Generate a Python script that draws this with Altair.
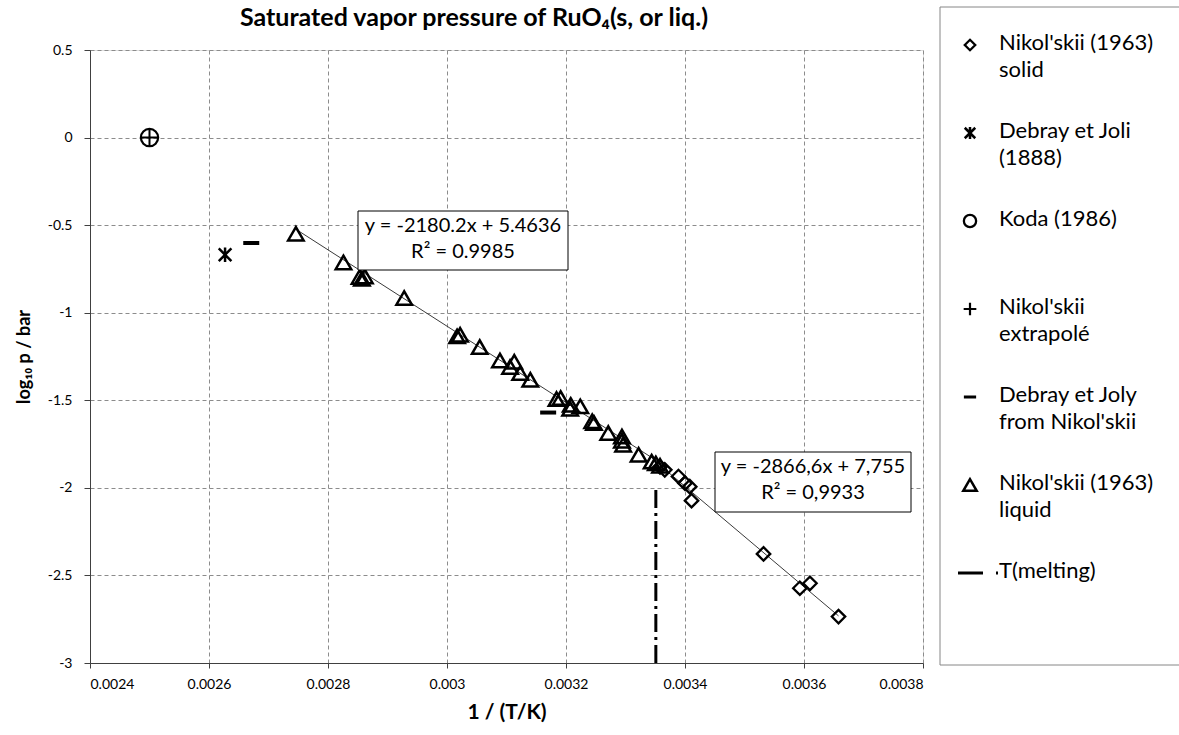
import altair as alt
import pandas as pd

# ---- measurements: 1/T (1/K) and log10(p / bar) ----
liquid_x = [0.002746, 0.002826, 0.002853, 0.002862, 0.002857, 0.002928, 0.003017,
            0.003022, 0.003055, 0.003089, 0.003113, 0.003106, 0.003123, 0.003140,
            0.003184, 0.003191, 0.003208, 0.003224, 0.003207, 0.003247, 0.003244,
            0.003271, 0.003294, 0.003296, 0.003294, 0.003322, 0.003344, 0.003351,
            0.003358]
liquid_y = [-0.549, -0.713, -0.796, -0.793, -0.806, -0.916, -1.135,
            -1.126, -1.196, -1.273, -1.280, -1.310, -1.345, -1.383,
            -1.493, -1.487, -1.526, -1.535, -1.549, -1.630, -1.620,
            -1.687, -1.707, -1.754, -1.731, -1.811, -1.850, -1.860,
            -1.874]

solid_x = [0.003358, 0.003366, 0.003389, 0.003400, 0.003408, 0.003411,
           0.003532, 0.003593, 0.003610, 0.003658]
solid_y = [-1.880, -1.897, -1.935, -1.973, -1.993, -2.073,
           -2.377, -2.573, -2.545, -2.735]

koda_x = [0.0025]
koda_y = [0.0]
extrap_x = [0.0025]
extrap_y = [0.0]
debray_x = [0.002627]
debray_y = [-0.669]
debray_nik_x = [0.002671, 0.003170]
debray_nik_y = [-0.602, -1.570]

t_melt_x = [0.003351, 0.003351]
t_melt_y = [-3.0, -2.0]

# linear fits log10 p = a * (1/T) + b
fit_liquid = (-2180.2, 5.4636)
fit_solid = (-2866.6, 7.755)
fit_liquid_text = ["y = -2180.2x + 5.4636", "R² = 0.9985"]
fit_solid_text = ["y = -2866,6x + 7,755", "R² = 0,9933"]

x_ticks = [0.0024, 0.0026, 0.0028, 0.0030, 0.0032, 0.0034, 0.0036, 0.0038]
y_ticks = [-3.0, -2.5, -2.0, -1.5, -1.0, -0.5, 0.0, 0.5]

chart_title = "Saturated vapor pressure of RuO₄(s, or liq.)"
legend_labels = [
    "Nikol'skii (1963)\nsolid",
    "Debray et Joli\n(1888)",
    "Koda (1986)",
    "Nikol'skii\nextrapolé",
    "Debray et Joly\nfrom Nikol'skii",
    "Nikol'skii (1963)\nliquid",
    "T(melting)",
]

# ---- layout ----
W, H = 833, 613
PAD_L, PAD_T = 90, 50
FONT = "Lato"

# marker paths (unit square -1..1)
ASTERISK = "M-1,-1L1,1M-1,1L1,-1M0,-1.15L0,1.15"
PLUS = "M-1,0L1,0M0,-1L0,1"
DASH = "M-1,0L1,0"

xs = alt.Scale(domain=[0.0024, 0.0038], nice=False, zero=False)
ys = alt.Scale(domain=[-3, 0.5], nice=False, zero=False)

x_axis = alt.Axis(values=x_ticks, title="1 / (T/K)",
                  labelExpr="toString(round(datum.value*10000)/10000)",
                  grid=True, gridDash=[4, 3], gridColor="#8c8c8c", gridWidth=1,
                  domainColor="#404040", tickColor="#404040", tickSize=5,
                  labelFont=FONT, labelFontSize=14, labelColor="black",
                  labelPadding=9, titleFont=FONT, titleFontSize=21,
                  titleFontWeight="bold", titleColor="black", titlePadding=10)
y_axis = alt.Axis(values=y_ticks, title="log₁₀ p / bar",
                  labelExpr="toString(datum.value)",
                  grid=True, gridDash=[4, 3], gridColor="#8c8c8c", gridWidth=1,
                  domainColor="#404040", tickColor="#404040", tickSize=6,
                  labelFont=FONT, labelFontSize=14, labelColor="black",
                  labelPadding=12, titleFont=FONT, titleFontSize=18,
                  titleFontWeight="bold", titleColor="black", titlePadding=14)

X = alt.X("x:Q", scale=xs, axis=x_axis)
Y = alt.Y("y:Q", scale=ys, axis=y_axis)


def frame(xv, yv):
    return pd.DataFrame({"x": xv, "y": yv})


def fit_frame(xv, fit):
    lo, hi = min(xv), max(xv)
    a, b = fit
    return frame([lo, hi], [a * lo + b, a * hi + b])


one = pd.DataFrame({"k": [0]})

layers = []

# fitted lines
for xv, fit in [(liquid_x, fit_liquid), (solid_x, fit_solid)]:
    layers.append(alt.Chart(fit_frame(xv, fit)).mark_line(color="#3a3a3a", strokeWidth=1)
                  .encode(x=X, y=Y))

# melting temperature marker
layers.append(alt.Chart(frame(t_melt_x, t_melt_y)).mark_line(
    color="black", strokeWidth=3, strokeDash=[18, 5, 3, 5]).encode(x=X, y=Y))

# data series
layers.append(alt.Chart(frame(liquid_x, liquid_y)).mark_point(
    shape="triangle-up", size=240, strokeWidth=2.5, color="black", filled=False, opacity=1)
    .encode(x=X, y=Y))
layers.append(alt.Chart(frame(solid_x, solid_y)).mark_point(
    shape="diamond", size=180, strokeWidth=2.3, color="black", filled=False, opacity=1)
    .encode(x=X, y=Y))
layers.append(alt.Chart(frame(koda_x, koda_y)).mark_point(
    shape="circle", size=300, strokeWidth=2.2, color="black", filled=False, opacity=1)
    .encode(x=X, y=Y))
layers.append(alt.Chart(frame(extrap_x, extrap_y)).mark_point(
    shape=PLUS, size=320, strokeWidth=2, color="black", filled=False, opacity=1)
    .encode(x=X, y=Y))
layers.append(alt.Chart(frame(debray_x, debray_y)).mark_point(
    shape=ASTERISK, size=160, strokeWidth=2.5, color="black", filled=False, opacity=1)
    .encode(x=X, y=Y))
layers.append(alt.Chart(frame(debray_nik_x, debray_nik_y)).mark_point(
    shape=DASH, size=256, strokeWidth=4, color="black", filled=False, opacity=1)
    .encode(x=X, y=Y))

# fit equation boxes (pixel boxes relative to plot origin)
boxes = [
    (fit_liquid_text, 358, 568, 211, 270),
    (fit_solid_text, 715, 911, 452, 512),
]
for lines, x0, x1, y0, y1 in boxes:
    layers.append(alt.Chart(one).mark_rect(fill="white", stroke="black", strokeWidth=1)
                  .encode(x=alt.value(x0 - PAD_L), x2=alt.value(x1 - PAD_L),
                          y=alt.value(y0 - PAD_T), y2=alt.value(y1 - PAD_T)))
    layers.append(alt.Chart(one).mark_text(font=FONT, fontSize=20, color="black",
                                           align="center", baseline="top",
                                           lineBreak="\n", lineHeight=26)
                  .encode(x=alt.value((x0 + x1) / 2 - PAD_L), y=alt.value(y0 + 5 - PAD_T),
                          text=alt.value("\n".join(lines))))

# chart title
layers.append(alt.Chart(one).mark_text(font=FONT, fontSize=25, fontWeight="bold",
                                       color="black", align="center", baseline="middle")
              .encode(x=alt.value(474 - PAD_L), y=alt.value(18 - PAD_T),
                      text=alt.value(chart_title)))

# legend frame
layers.append(alt.Chart(one).mark_rect(fill="white", stroke="#868686", strokeWidth=1)
              .encode(x=alt.value(940 - PAD_L), x2=alt.value(1185 - PAD_L),
                      y=alt.value(7 - PAD_T), y2=alt.value(665 - PAD_T)))

legend_marks = [
    dict(shape="diamond", size=110, strokeWidth=2.3),
    dict(shape=ASTERISK, size=110, strokeWidth=2.5),
    dict(shape="circle", size=150, strokeWidth=2.3),
    dict(shape=PLUS, size=160, strokeWidth=2.2),
    dict(shape=DASH, size=150, strokeWidth=3),
    dict(shape="triangle-up", size=180, strokeWidth=2.5),
    None,
]
for i, (label, mk) in enumerate(zip(legend_labels, legend_marks)):
    cy = 45 + 88 * i - PAD_T
    if mk is None:
        layers.append(alt.Chart(one).mark_rule(color="black", strokeWidth=3,
                                               strokeDash=[25, 13, 2, 200])
                      .encode(x=alt.value(958 - PAD_L), x2=alt.value(999 - PAD_L),
                              y=alt.value(cy)))
    else:
        layers.append(alt.Chart(one).mark_point(color="black", filled=False, opacity=1, **mk)
                      .encode(x=alt.value(970 - PAD_L), y=alt.value(cy)))
    layers.append(alt.Chart(one).mark_text(font=FONT, fontSize=22, color="black",
                                           align="left", baseline="top",
                                           lineBreak="\n", lineHeight=27)
                  .encode(x=alt.value(999 - PAD_L), y=alt.value(cy - 12),
                          text=alt.value(label)))

chart = alt.layer(*layers).properties(
    width=W, height=H,
    autosize=alt.AutoSizeParams(type="none"),
    padding={"left": PAD_L, "top": PAD_T, "right": 1179 - PAD_L - W,
             "bottom": 735 - PAD_T - H},
).configure_view(stroke="#868686", strokeWidth=1).configure(background="white")

chart.save("out.html", embed_options={"renderer": "svg", "actions": False})
